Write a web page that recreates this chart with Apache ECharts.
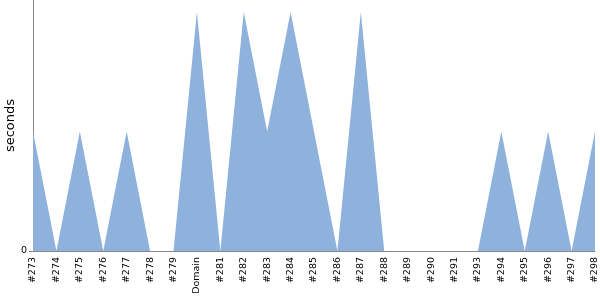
<!DOCTYPE html>
<html><head><meta charset="utf-8">
<script src="https://cdn.jsdelivr.net/npm/echarts@6/dist/echarts.min.js"></script>
<style>html,body{margin:0;padding:0;background:#fff}#c{width:600px;height:300px}</style>
</head><body><div id="c"></div>
<script>
var categories = ['#273','#274','#275','#276','#277','#278','#279','Domain','#281','#282','#283','#284','#285','#286','#287','#288','#289','#290','#291','#293','#294','#295','#296','#297','#298'];
var seconds = [1,0,1,0,1,0,0,2,0,2,1,2,1,0,2,0,0,0,0,0,1,0,1,0,1];
var chart = echarts.init(document.getElementById('c'), null, {renderer:'canvas'});
chart.setOption({
  animation:false,
  grid:{left:33,right:5,top:0,bottom:49,containLabel:false,outerBoundsMode:'none'},
  xAxis:{type:'category',data:categories,boundaryGap:false,
    axisLine:{lineStyle:{color:'#888',width:1}},axisTick:{show:false},
    axisLabel:{rotate:90,interval:0,color:'#000',fontFamily:'DejaVu Sans',fontSize:9.5,margin:6}},
  yAxis:{type:'value',min:0,max:2.1,interval:2.1,name:'seconds',nameLocation:'middle',nameGap:16,
    nameMoveOverlap:false,
    nameTextStyle:{color:'#000',fontFamily:'DejaVu Sans',fontSize:13},
    axisLine:{show:true,lineStyle:{color:'#888',width:1}},
    axisTick:{show:true,length:4,lineStyle:{color:'#888',width:1},customValues:[0]},
    splitLine:{show:false},
    axisLabel:{color:'#000',fontFamily:'DejaVu Sans',fontSize:9.5,margin:6,customValues:[0],formatter:function(v){return v===0?'0':'';}}},
  series:[{type:'line',data:seconds,symbol:'none',lineStyle:{width:0},
    areaStyle:{color:'#8fb2dc',opacity:1}}]
});
</script></body></html>
